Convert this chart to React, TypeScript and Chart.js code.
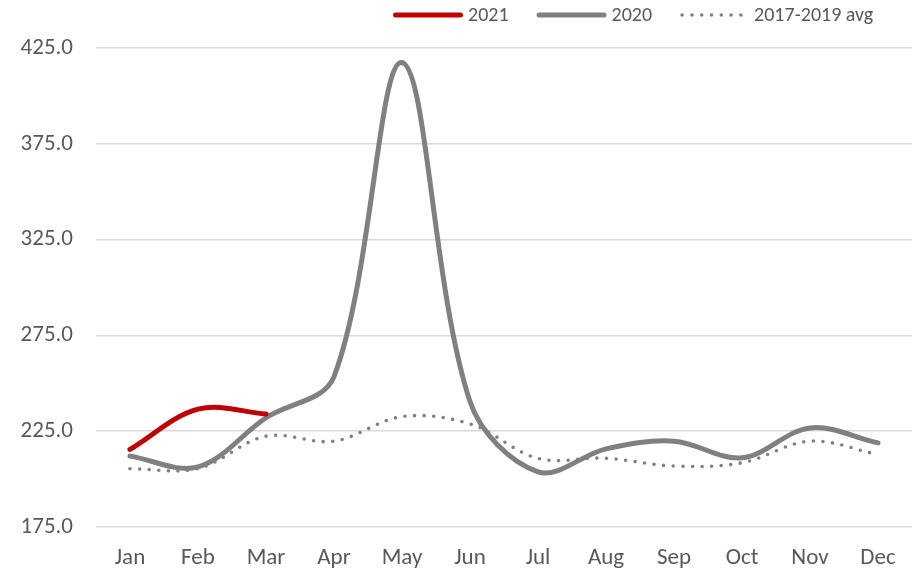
import React, { useEffect, useRef } from "react";
import { Chart, registerables } from "chart.js";

Chart.register(...registerables);

const months = ["Jan", "Feb", "Mar", "Apr", "May", "Jun", "Jul", "Aug", "Sep", "Oct", "Nov", "Dec"];
const values2021: (number | null)[] = [215.5, 236.5, 234.0, null, null, null, null, null, null, null, null, null];
const values2020 = [212.0, 206.4, 232.0, 253.5, 417.4, 240.5, 203.8, 215.8, 219.8, 211.1, 226.7, 218.9];
const valuesAvg = [205.4, 205.5, 222.4, 219.8, 232.6, 228.8, 210.8, 210.9, 206.8, 208.5, 219.8, 212.8];
const yMin = 175;
const yMax = 425;
const yStep = 50;

const FONT = "Carlito, Lato, 'Open Sans', sans-serif";
const TEXT = "#595959";
const RED = "#C00000";
const GRAY = "#808080";

const legendItems = [
  { label: "2021", color: RED, dotted: false },
  { label: "2020", color: GRAY, dotted: false },
  { label: "2017-2019 avg", color: GRAY, dotted: true },
];

const legendPlugin = {
  id: "customLegend",
  afterDraw(chart: any) {
    const ctx = chart.ctx as CanvasRenderingContext2D;
    ctx.save();
    ctx.font = `20px ${FONT}`;
    ctx.textBaseline = "middle";
    ctx.textAlign = "left";
    const y = 15;
    let x = 393;
    legendItems.forEach((it) => {
      ctx.strokeStyle = it.color;
      ctx.lineCap = "round";
      ctx.beginPath();
      if (it.dotted) {
        ctx.lineWidth = 3.6;
        ctx.setLineDash([0, 9.8]);
        ctx.moveTo(x + 2, y);
        ctx.lineTo(x + 62, y);
      } else {
        ctx.lineWidth = 5;
        ctx.setLineDash([]);
        ctx.moveTo(x + 2.5, y);
        ctx.lineTo(x + 67.5, y);
      }
      ctx.stroke();
      ctx.setLineDash([]);
      const tx = it.dotted ? x + 74 : x + 75;
      ctx.fillStyle = TEXT;
      ctx.fillText(it.label, tx, y + 0.5);
      x = tx + ctx.measureText(it.label).width + 28;
    });
    ctx.restore();
  },
};

export default function App() {
  const ref = useRef<HTMLCanvasElement | null>(null);
  useEffect(() => {
    if (!ref.current) return;
    const chart = new Chart(ref.current, {
      type: "line",
      data: {
        labels: months,
        datasets: [
          {
            label: "2021",
            data: values2021,
            borderColor: RED,
            borderWidth: 5,
            borderCapStyle: "round",
            borderJoinStyle: "round",
            pointRadius: 0,
            tension: 0.35,
            order: 0,
          },
          {
            label: "2020",
            data: values2020,
            borderColor: GRAY,
            borderWidth: 5,
            borderCapStyle: "round",
            borderJoinStyle: "round",
            pointRadius: 0,
            tension: 0.35,
            order: 1,
          },
          {
            label: "2017-2019 avg",
            data: valuesAvg,
            borderColor: GRAY,
            borderWidth: 3.6,
            borderCapStyle: "round",
            borderDash: [0, 9.6],
            pointRadius: 0,
            tension: 0.35,
            order: 2,
          },
        ],
      },
      options: {
        animation: false,
        responsive: false,
        maintainAspectRatio: false,
        layout: { padding: { top: 48, right: 11, left: 0, bottom: 0 } },
        plugins: {
          legend: { display: false },
          tooltip: { enabled: false },
        },
        scales: {
          x: {
            offset: true,
            grid: { display: false, drawTicks: false, offset: true },
            border: { display: false },
            ticks: { color: TEXT, font: { family: FONT, size: 23 }, padding: 17, maxRotation: 0, autoSkip: false },
            afterFit: (s: any) => {
              s.height = 47;
            },
          },
          y: {
            min: yMin,
            max: yMax,
            grid: { color: "#d9d9d9", lineWidth: 1.5, drawTicks: false },
            border: { display: false },
            ticks: {
              stepSize: yStep,
              color: TEXT,
              font: { family: FONT, size: 23 },
              padding: 23,
              callback: (v: any) => Number(v).toFixed(1),
            },
            afterFit: (s: any) => {
              s.width = 96;
            },
          },
        },
      },
      plugins: [legendPlugin],
    });
    return () => chart.destroy();
  }, []);
  return (
    <div style={{ position: "absolute", left: 0, top: 0, width: 923, height: 574, background: "#fff" }}>
      <canvas ref={ref} width={923} height={574} style={{ width: 923, height: 574, display: "block" }} />
    </div>
  );
}
